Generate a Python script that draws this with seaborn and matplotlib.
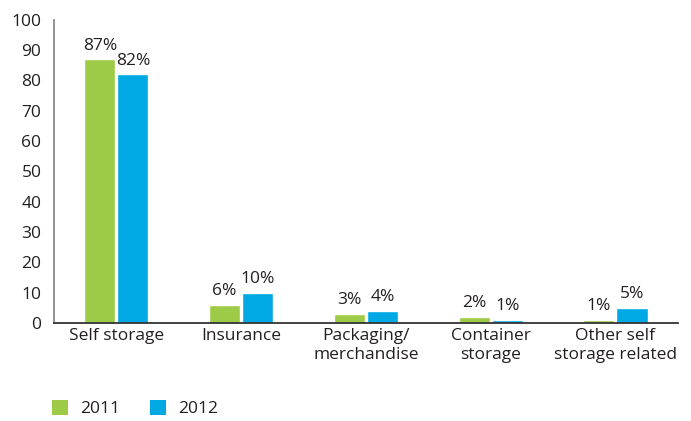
import matplotlib
matplotlib.use("Agg")
import matplotlib.pyplot as plt
import seaborn as sns
import pandas as pd
from matplotlib.patches import Patch

categories = ["Self storage", "Insurance", "Packaging/\nmerchandise",
              "Container\nstorage", "Other self\nstorage related"]
values_2011 = [87, 6, 3, 2, 1]
values_2012 = [82, 10, 4, 1, 5]
years = ["2011", "2012"]
colors = ["#9DCB47", "#00A8E4"]
y_ticks = [0, 10, 20, 30, 40, 50, 60, 70, 80, 90, 100]

df = pd.DataFrame({
    "category": categories * 2,
    "value": values_2011 + values_2012,
    "year": [years[0]] * len(categories) + [years[1]] * len(categories),
})

sns.set_style("white")
plt.rcParams["font.family"] = ["Open Sans", "DejaVu Sans"]
text_color = "#231F20"
fs = 12.5

fig = plt.figure(figsize=(6.91, 4.21), dpi=100)
ax = fig.add_axes([0.078, 0.233, 0.903, 0.72])

sns.barplot(data=df, x="category", y="value", hue="year", palette=colors,
            width=0.53, gap=0.06, saturation=1, ax=ax, legend=False)

for container in ax.containers:
    ax.bar_label(container, labels=[f"{v:.0f}%" for v in container.datavalues],
                 padding=4, fontsize=fs, color=text_color)

ax.set_ylim(0, 100)
ax.set_xlim(-0.5, len(categories) - 0.5)
ax.set_yticks(y_ticks)
ax.tick_params(axis="y", length=0, labelsize=fs, labelcolor=text_color, pad=9)
ax.tick_params(axis="x", length=0, labelsize=fs, labelcolor=text_color, pad=4)
ax.set_xlabel("")
ax.set_ylabel("")

for side in ["top", "right"]:
    ax.spines[side].set_visible(False)
ax.spines["left"].set_color("#8A8A8A")
ax.spines["left"].set_linewidth(1.3)
ax.spines["bottom"].set_color("#333333")
ax.spines["bottom"].set_linewidth(1.3)

handles = [Patch(facecolor=c, edgecolor="none") for c in colors]
fig.legend(handles, years, loc="center left", bbox_to_anchor=(0.052, 0.03),
           ncol=2, frameon=False, fontsize=fs, handlelength=0.95,
           handleheight=0.95, handletextpad=0.7, columnspacing=1.7,
           labelcolor=text_color)

fig.savefig("out.png", dpi=100)
